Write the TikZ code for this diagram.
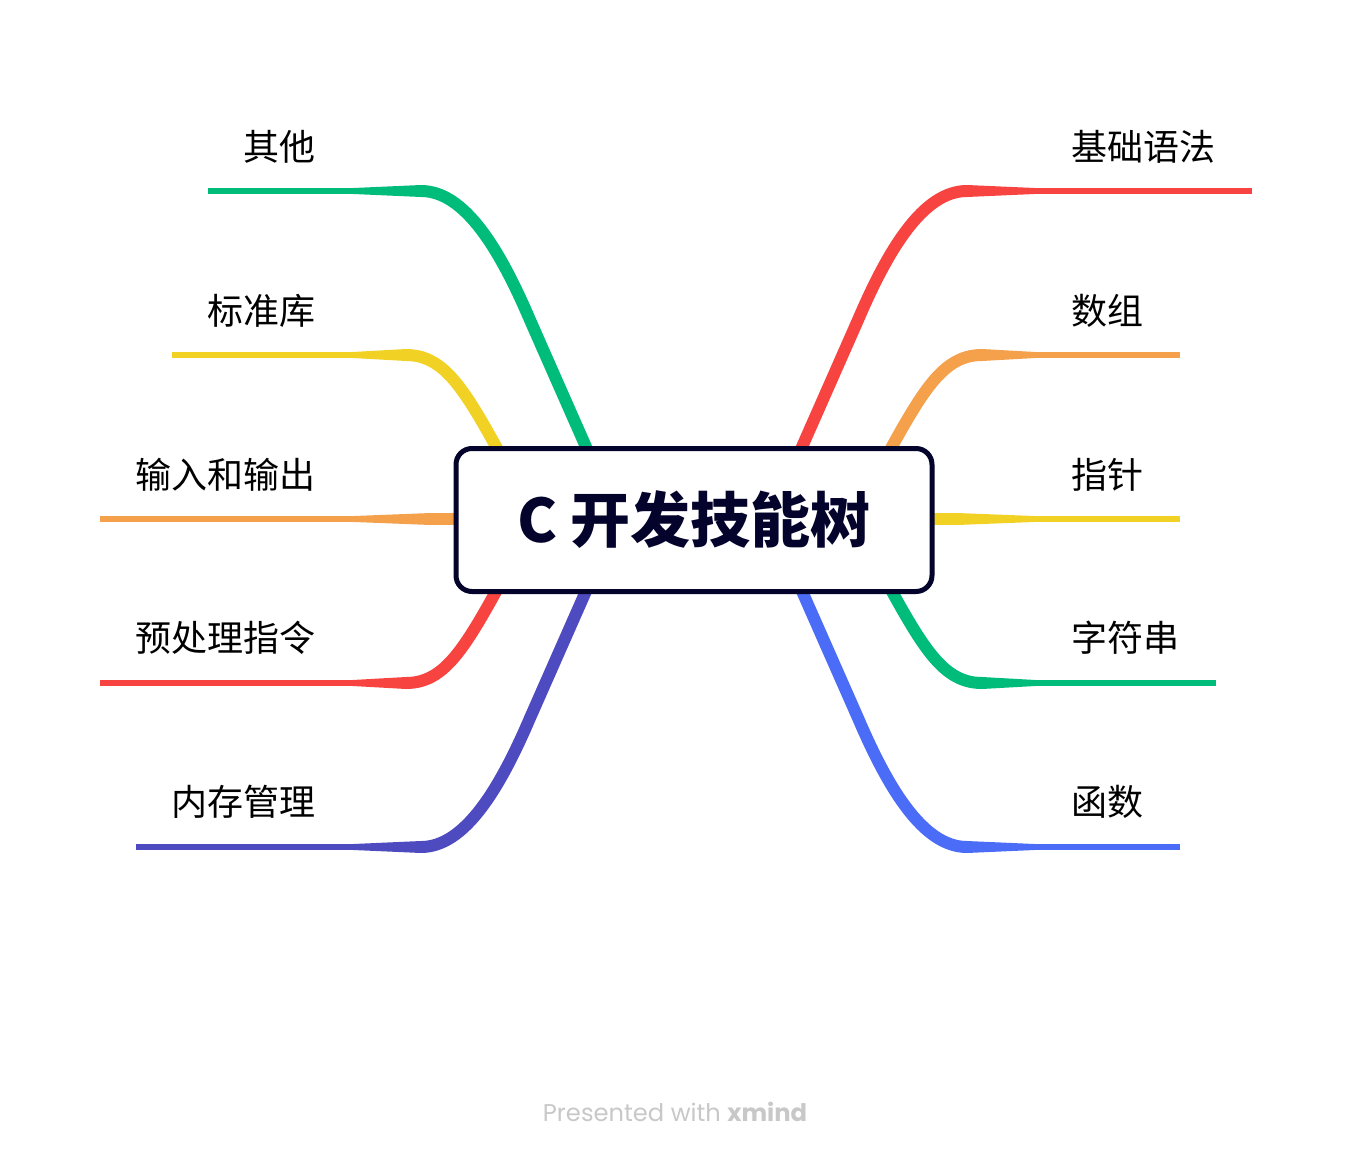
\documentclass[tikz,border=0pt]{standalone}
\usepackage{fontspec}
\setmainfont{Noto Sans CJK SC}
\newfontfamily\footfont{Poppins}
\definecolor{cgreen}{HTML}{00BC7B}
\definecolor{cyellow}{HTML}{F2D125}
\definecolor{corange}{HTML}{F5A04B}
\definecolor{cred}{HTML}{F84440}
\definecolor{cindigo}{HTML}{4E4BC0}
\definecolor{cblue}{HTML}{4A6CF7}
\definecolor{navy}{HTML}{03032B}
\definecolor{footgrey}{HTML}{C8C8C8}
\newcommand{\taper}[4]{\fill[#1] (#2,#4-6) -- (#3,#4-2.8) -- (#3,#4+2.8) -- (#2,#4+6) -- cycle;}
\begin{document}
\begin{tikzpicture}[x=1pt,y=-1pt,
  thickbr/.style={line width=12pt},
  thinbr/.style={line width=5.6pt},
  lab/.style={font=\fontsize{36}{40}\selectfont, inner sep=0pt, text=black},
  rootbox/.style={draw=navy, line width=5pt, rounded corners=16pt, fill=white,
     minimum width=476pt, minimum height=143pt, inner sep=0pt, text=navy,
     font=\fontsize{60}{64}\selectfont\bfseries}]
\useasboundingbox[fill=white] (0,0) rectangle (1352,1164);

% label nodes
\node[lab, anchor=east] (l1) at (316,147) {其他};
\node[lab, anchor=east] (l2) at (316,311) {标准库};
\node[lab, anchor=east] (l3) at (316,475) {输入和输出};
\node[lab, anchor=east] (l4) at (316,638) {预处理指令};
\node[lab, anchor=east] (l5) at (316,802) {内存管理};
\node[lab, anchor=west] (r1) at (1071,147) {基础语法};
\node[lab, anchor=west] (r2) at (1071,311) {数组};
\node[lab, anchor=west] (r3) at (1071,475) {指针};
\node[lab, anchor=west] (r4) at (1071,638) {字符串};
\node[lab, anchor=west] (r5) at (1071,802) {函数};

% branch end coordinates
\coordinate (e1) at (208,191);
\coordinate (e2) at (172,355);
\coordinate (e3) at (100,519);
\coordinate (e4) at (100,683);
\coordinate (e5) at (136,847);
\coordinate (f1) at (1252,191);
\coordinate (f2) at (1180,355);
\coordinate (f3) at (1180,519);
\coordinate (f4) at (1216,683);
\coordinate (f5) at (1180,847);

% left branches
\draw[thickbr, cgreen] (605,490) -- (530,320) .. controls (500,250) and (465,191) .. (421,191);
\taper{cgreen}{421}{349}{191}
\draw[thinbr, cgreen] (350,191) -- (e1);

\draw[thickbr, cyellow] (520,490) .. controls (470,400) and (450,355) .. (406,355);
\taper{cyellow}{406}{349}{355}
\draw[thinbr, cyellow] (350,355) -- (e2);

\draw[thickbr, corange] (480,519) -- (431,519);
\taper{corange}{431}{349}{519}
\draw[thinbr, corange] (350,519) -- (e3);

\draw[thickbr, cred] (520,548) .. controls (470,638) and (450,683) .. (406,683);
\taper{cred}{406}{349}{683}
\draw[thinbr, cred] (350,683) -- (e4);

\draw[thickbr, cindigo] (605,548) -- (530,718) .. controls (500,788) and (465,847) .. (421,847);
\taper{cindigo}{421}{349}{847}
\draw[thinbr, cindigo] (350,847) -- (e5);

% right branches
\draw[thickbr, cred] (783,490) -- (858,320) .. controls (888,250) and (923,191) .. (967,191);
\taper{cred}{967}{1039}{191}
\draw[thinbr, cred] (1038,191) -- (f1);

\draw[thickbr, corange] (868,490) .. controls (918,400) and (938,355) .. (982,355);
\taper{corange}{982}{1039}{355}
\draw[thinbr, corange] (1038,355) -- (f2);

\draw[thickbr, cyellow] (908,519) -- (957,519);
\taper{cyellow}{957}{1039}{519}
\draw[thinbr, cyellow] (1038,519) -- (f3);

\draw[thickbr, cgreen] (868,548) .. controls (918,638) and (938,683) .. (982,683);
\taper{cgreen}{982}{1039}{683}
\draw[thinbr, cgreen] (1038,683) -- (f4);

\draw[thickbr, cblue] (783,548) -- (858,718) .. controls (888,788) and (923,847) .. (967,847);
\taper{cblue}{967}{1039}{847}
\draw[thinbr, cblue] (1038,847) -- (f5);

% root
\node[rootbox] (root) at (694,520) {C 开发技能树};

% footer
\node[inner sep=0pt, text=footgrey, font=\footfont\fontsize{24.2}{28}\selectfont] (foot) at (675,1112) {Presented with \textbf{xmind}};
\end{tikzpicture}
\end{document}
